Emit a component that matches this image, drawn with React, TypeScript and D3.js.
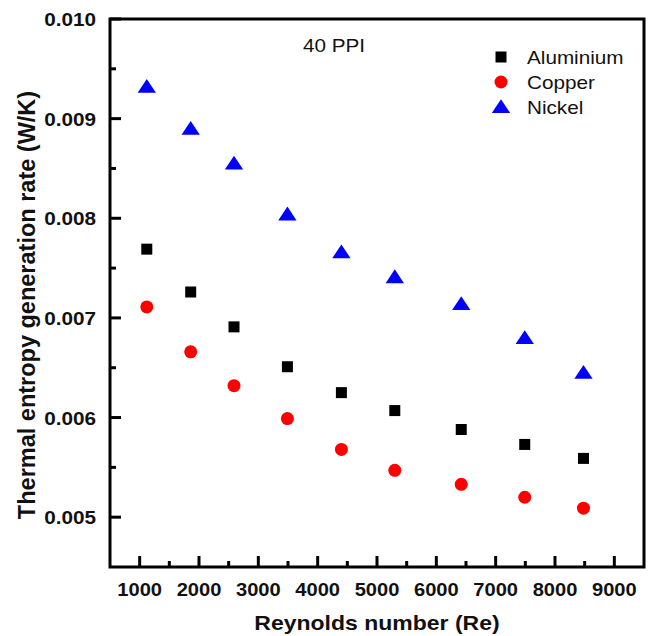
import React from "react";
import * as d3 from "d3";

const reynolds = [1120, 1860, 2590, 3490, 4400, 5300, 6420, 7490, 8480];
const aluminium = [0.00769, 0.00726, 0.00691, 0.00651, 0.00625, 0.00607, 0.00588, 0.00573, 0.00559];
const copper = [0.00711, 0.00666, 0.00632, 0.00599, 0.00568, 0.00547, 0.00533, 0.0052, 0.00509];
const nickel = [0.00932, 0.0089, 0.00855, 0.00804, 0.00766, 0.00741, 0.00714, 0.0068, 0.00645];
const xTicks = [1000, 2000, 3000, 4000, 5000, 6000, 7000, 8000, 9000];
const xMinor = [1500, 2500, 3500, 4500, 5500, 6500, 7500, 8500];
const yTicks = [0.005, 0.006, 0.007, 0.008, 0.009, 0.01];
const yMinor = [0.0055, 0.0065, 0.0075, 0.0085, 0.0095];
const seriesNames = ["Aluminium", "Copper", "Nickel"];
const annotation = "40 PPI";

const W = 649, H = 636;
const L = 110, R = 644, T = 19, B = 567;
const SX = 1.15;

export default function App() {
  const x = d3.scaleLinear().domain([500, 9500]).range([L, R]);
  const y = d3.scaleLinear().domain([0.0045, 0.01]).range([B, T]);
  const font = "Liberation Sans, Arial, sans-serif";
  const sq = 11;
  const tri = d3.symbol().type(d3.symbolTriangle).size(110)();
  const legendY = [57, 82, 107];
  const marker = (i: number, cx: number, cy: number, key: string) => {
    if (i === 0) return <rect key={key} x={cx - sq / 2} y={cy - sq / 2} width={sq} height={sq} fill="#000" />;
    if (i === 1) return <circle key={key} cx={cx} cy={cy} r={6.5} fill="#ff0000" />;
    return <path key={key} d={tri || ""} transform={`translate(${cx},${cy + 1.5}) scale(1.15,1)`} fill="#0000ff" />;
  };
  const series = [aluminium, copper, nickel];
  return (
    <svg width={W} height={H} style={{ position: "absolute", left: 0, top: 0 }} fontFamily={font}>
      <rect width={W} height={H} fill="#fff" />
      {series.map((vals, si) =>
        vals.map((v, i) => marker(si, x(reynolds[i]), y(v), `m${si}-${i}`))
      )}
      {xTicks.map((t) => (
        <line key={`xt${t}`} x1={x(t)} x2={x(t)} y1={B} y2={B - 11} stroke="#000" strokeWidth={3} />
      ))}
      {xMinor.map((t) => (
        <line key={`xm${t}`} x1={x(t)} x2={x(t)} y1={B} y2={B - 6} stroke="#000" strokeWidth={3} />
      ))}
      {yTicks.map((t) => (
        <line key={`yt${t}`} x1={L} x2={L + 11} y1={y(t)} y2={y(t)} stroke="#000" strokeWidth={3} />
      ))}
      {yMinor.map((t) => (
        <line key={`ym${t}`} x1={L} x2={L + 6} y1={y(t)} y2={y(t)} stroke="#000" strokeWidth={3} />
      ))}
      <rect x={L} y={T} width={R - L} height={B - T} fill="none" stroke="#000" strokeWidth={3} />
      {xTicks.map((t) => (
        <text key={`xl${t}`} transform={`translate(${x(t)},${596}) scale(${SX},1)`} textAnchor="middle" fontSize={17.5} fontWeight="bold" fill="#111">
          {t}
        </text>
      ))}
      {yTicks.map((t) => (
        <text key={`yl${t}`} transform={`translate(${96},${y(t) + 7}) scale(${SX},1)`} textAnchor="end" fontSize={18} fontWeight="bold" fill="#111">
          {d3.format(".3f")(t)}
        </text>
      ))}
      <text transform={`translate(${(L + R) / 2},${630}) scale(${SX},1)`} textAnchor="middle" fontSize={20} fontWeight="bold" fill="#111">
        Reynolds number (Re)
      </text>
      <text transform={`translate(${35},${305}) rotate(-90)`} textAnchor="middle" fontSize={23.5} fontWeight="bold" fill="#111">
        Thermal entropy generation rate (W/K)
      </text>
      <text transform={`translate(${303},${52}) scale(${SX},1)`} fontSize={18} fill="#111">
        {annotation}
      </text>
      {seriesNames.map((n, i) => (
        <g key={n}>
          {marker(i, 501, legendY[i], `lg${i}`)}
          <text transform={`translate(${527},${legendY[i] + 7}) scale(${SX},1)`} fontSize={18} fill="#111">
            {n}
          </text>
        </g>
      ))}
    </svg>
  );
}
